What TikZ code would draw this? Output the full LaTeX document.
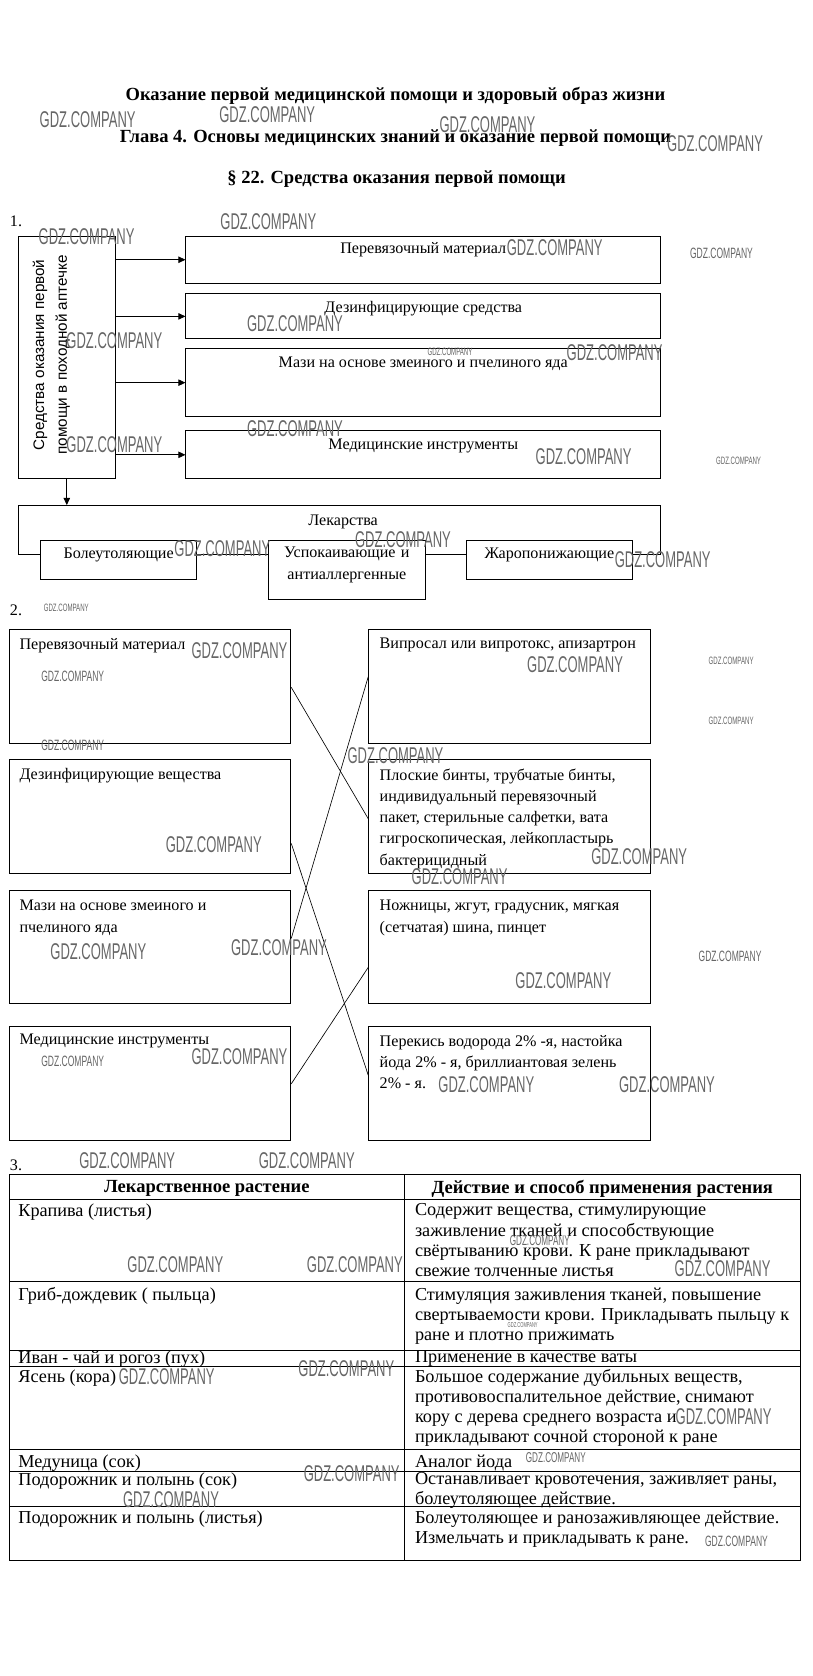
\documentclass[tikz,border=0pt]{standalone}
\usepackage{fontspec}
\setmainfont{Liberation Serif}
\newfontfamily\sidefont{Liberation Sans}
\newfontfamily\wmfont[FakeStretch=0.57]{Liberation Sans}
\usetikzlibrary{arrows.meta, fit, positioning}

\newcommand{\bodyfont}{\fontsize{11.3}{14.85}\selectfont}
\newcommand{\tabfont}{\fontsize{12.8}{14.1}\selectfont}
\newcommand{\headfont}{\bfseries\fontsize{13}{15}\selectfont}

\tikzset{
  box/.style={draw, line width=0.7pt, fill=white, inner sep=0pt},
  txt/.style={font=\bodyfont, inner sep=0pt},
  cell/.style={font=\tabfont, inner sep=0pt, anchor=north west, align=left},
  arr/.style={line width=0.6pt, -{Triangle[length=5pt, width=4.5pt]}},
  link/.style={line width=0.45pt},
  rule/.style={line width=0.7pt},
  wm/.style={text=black!60, inner sep=0pt}
}

\begin{document}
\begin{tikzpicture}[x=0.75pt, y=-0.75pt]
  \path[use as bounding box, fill=white] (0,0) rectangle (760,1568);

  % headings
  \node[font=\headfont] (title) at (370,90) {Оказание первой медицинской помощи и здоровый образ жизни};
  \node[font=\headfont] (chapter) at (370,129) {Глава 4. Основы медицинских знаний и оказание первой помощи};
  \node[font=\headfont] (para) at (371,168) {§ 22. Средства оказания первой помощи};

  % task 1
  \node[txt] (n1) at (15,207) {1.};
  \node[box, fit={(17,221) (108,448)}] (side) {};
  \node[font=\sidefont\fontsize{10.7}{16}\selectfont, rotate=90, align=center] (sidelbl) at (48,332)
    {Средства оказания первой\\помощи в походной аптечке};
  \node[box, fit={(174,221) (618,265)}] (b1) {};
  \node[box, fit={(174,275) (618,317)}] (b2) {};
  \node[box, fit={(174,326) (618,390)}] (b3) {};
  \node[box, fit={(174,403) (618,448)}] (b4) {};
  \node[txt] (b1lbl) at ([yshift=-10pt]b1.north) {Перевязочный материал};
  \node[txt] (b2lbl) at ([yshift=-10.5pt]b2.north) {Дезинфицирующие средства};
  \node[txt] (b3lbl) at ([yshift=-11pt]b3.north) {Мази на основе змеиного и пчелиного яда};
  \node[txt] (b4lbl) at ([yshift=-11pt]b4.north) {Медицинские инструменты};
  \draw[arr] (side.east |- b1.west) -- (b1.west);
  \draw[arr] (side.east |- b2.west) -- (b2.west);
  \draw[arr] (side.east |- b3.west) -- (b3.west);
  \draw[arr] (side.east |- b4.west) -- (b4.west);

  \node[box, fit={(17,473) (618,519)}] (drugs) {};
  \node[txt] (drugslbl) at (321,488) {Лекарства};
  \node[box, fit={(38,506) (184,542)}, font=\bodyfont] (pain) {Болеутоляющие};
  \node[box, fit={(251,506) (398,561)}, font=\bodyfont, align=center] (calm) {Успокаивающие и\\антиаллергенные};
  \node[box, fit={(436,506) (592,542)}, font=\bodyfont] (fever) {Жаропонижающие};
  \draw[arr] (side.south) -- (side.south |- drugs.north);

  % task 2
  \node[txt] (n2) at (15,571) {2.};
  \node[box, fit={(9,589) (272,696)}] (l1) {};
  \node[box, fit={(9,711) (272,817)}] (l2) {};
  \node[box, fit={(9,833) (272,939)}] (l3) {};
  \node[box, fit={(9,960) (272,1067)}] (l4) {};
  \node[box, fit={(345,589) (609,696)}] (r1) {};
  \node[box, fit={(345,711) (609,817)}] (r2) {};
  \node[box, fit={(345,833) (609,939)}] (r3) {};
  \node[box, fit={(345,960) (609,1067)}] (r4) {};
  \node[txt, anchor=north west, align=left] (l1lbl) at (18,597) {Перевязочный материал};
  \node[txt, anchor=north west, align=left] (l2lbl) at (18,719) {Дезинфицирующие вещества};
  \node[txt, anchor=north west, align=left] (l3lbl) at (18,842) {Мази на основе змеиного и\\пчелиного яда};
  \node[txt, anchor=north west, align=left] (l4lbl) at (18,967.5) {Медицинские инструменты};
  \node[txt, anchor=north west, align=left] (r1lbl) at (355,597) {Випросал или випротокс, апизартрон};
  \node[txt, anchor=north west, align=left] (r2lbl) at (355,719)
    {Плоские бинты, трубчатые бинты,\\индивидуальный перевязочный\\пакет, стерильные салфетки, вата\\гигроскопическая, лейкопластырь\\бактерицидный};
  \node[txt, anchor=north west, align=left] (r3lbl) at (355,842)
    {Ножницы, жгут, градусник, мягкая\\(сетчатая) шина, пинцет};
  \node[txt, anchor=north west, align=left] (r4lbl) at (355,968.5)
    {Перекись водорода 2\% -я, настойка\\йода 2\% - я, бриллиантовая зелень\\2\% - я.};
  \draw[link] (l1.east |- 0,643) -- (r2.west |- 0,766);
  \draw[link] (r1.west |- 0,633) -- (l3.east |- 0,878);
  \draw[link] (l2.east |- 0,789) -- (r4.west |- 0,1006);
  \draw[link] (l4.east |- 0,1014) -- (r3.west |- 0,905);

  % task 3
  \node[txt] (n3) at (15,1090) {3.};
  \draw[rule] (9,1099) rectangle (749,1460);
  \draw[rule] (378,1099) -- (378,1460);
  \foreach \y in {1122.5,1199,1263,1278.4,1356,1376.5,1409.7}
    \draw[rule] (9,\y) -- (749,\y);
  \node[font=\headfont] (h1) at (193.5,1112) {Лекарственное растение};
  \node[font=\headfont] (h2) at (563.5,1112) {Действие и способ применения растения};
  \node[cell] (p1) at (17,1126) {Крапива (листья)};
  \node[cell] (a1) at (388,1126)
    {Содержит вещества, стимулирующие\\заживление тканей и способствующие\\свёртыванию крови. К ране прикладывают\\свежие толченные листья};
  \node[cell] (p2) at (17,1204.5) {Гриб-дождевик ( пыльца)};
  \node[cell] (a2) at (388,1204.5)
    {Стимуляция заживления тканей, повышение\\свертываемости крови. Прикладывать пыльцу к\\ране и плотно прижимать};
  \node[cell] (p3) at (17,1263.5) {Иван - чай и рогоз (пух)};
  \node[cell] (a3) at (388,1263.5) {Применение в качестве ваты};
  \node[cell] (p4) at (17,1281) {Ясень (кора)};
  \node[cell] (a4) at (388,1281)
    {Большое содержание дубильных веществ,\\противовоспалительное действие, снимают\\кору с дерева среднего возраста и\\прикладывают сочной стороной к ране};
  \node[cell] (p5) at (17,1360.5) {Медуница (сок)};
  \node[cell] (a5) at (388,1360.5) {Аналог йода};
  \node[cell] (p6) at (17,1377.5) {Подорожник и полынь (сок)};
  \node[cell] (a6) at (388,1377.5)
    {Останавливает кровотечения, заживляет раны,\\болеутоляющее действие.};
  \node[cell] (p7) at (17,1413) {Подорожник и полынь (листья)};
  \node[cell] (a7) at (388,1413)
    {Болеутоляющее и ранозаживляющее действие.\\Измельчать и прикладывать к ране.};

  % watermarks
  \foreach \x/\y/\s [count=\i] in {82/112/16, 250/107/16, 456/117/16, 669/134/16,
      251/207/16, 81/221/16, 519/232/16, 675/237/10.5, 276/303/16, 107/319/16,
      421/329/7.5, 575/330/16, 276/401/16, 107/416/16, 546/427/16, 691/431/7.5,
      208/513/16, 377/505/16, 620/524/16, 62/569/7.5, 224/609/16, 68/633/10.5,
      538/622/16, 684/618/7.5, 684/674/7.5, 68/697/10.5, 370/707/16, 200/790/16,
      598/801/16, 430/820/16, 92/890/16, 261/887/16, 683/895/10.5, 527/917/16,
      68/993/10.5, 224/989/16, 455/1015/16, 624/1015/16, 119/1086/16, 287/1086/16,
      505/1161/10, 164/1183/16, 332/1183/16, 676/1187/16, 489/1240/5, 324/1280/16,
      156/1288/16, 677/1325/16, 520/1364/10, 329/1379/16, 160/1403/16, 689/1442/10.5}
    \node[wm, font=\wmfont\fontsize{\s}{\s}\selectfont] (wm\i) at (\x,\y) {GDZ.COMPANY};
\end{tikzpicture}
\end{document}
